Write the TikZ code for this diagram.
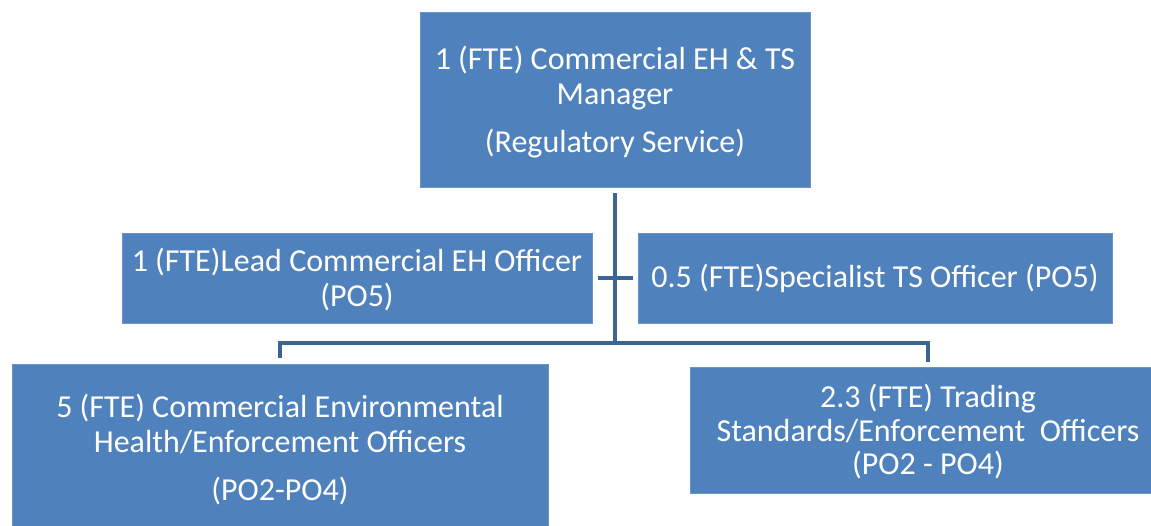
\documentclass[tikz,border=0pt]{standalone}
\usepackage{fontspec}
\setmainfont{Carlito}
\definecolor{boxblue}{HTML}{4F81BD}
\definecolor{boxedge}{HTML}{6C93C8}
\definecolor{linkblue}{HTML}{3D6497}
\tikzset{
  orgbox/.style={rectangle, fill=boxblue, draw=boxedge, line width=0.8pt, inner sep=0pt,
    text=white, align=center, font=\fontsize{32}{35}\selectfont},
  conn/.style={draw=linkblue, line width=4pt, line join=miter}
}
\begin{document}
\begin{tikzpicture}[x=1pt,y=-1pt]
\useasboundingbox (0,0) rectangle (1151,525);
\clip (0,0) rectangle (1151,525);
\node[orgbox, minimum width=390pt, minimum height=175pt] (top) at (615,99.5)
  {\rule{0pt}{28pt}1 (FTE) Commercial EH \& TS\\Manager\\[13pt](Regulatory Service)};
\node[orgbox, minimum width=470pt, minimum height=90pt] (lmid) at (357,278)
  {\rule{0pt}{27pt}1 (FTE)Lead Commercial EH Officer\\(PO5)};
\node[orgbox, minimum width=474pt, minimum height=90pt] (rmid) at (875,278)
  {0.5 (FTE)Specialist TS Officer (PO5)};
\node[orgbox, minimum width=536pt, minimum height=172pt] (bl) at (280,450)
  {5 (FTE) Commercial Environmental\\Health/Enforcement Officers\\[13pt](PO2-PO4)};
\node[orgbox, minimum width=476pt, minimum height=126pt, font=\fontsize{32}{33.5}\selectfont] (br) at (928,430)
  {\rule{0pt}{27pt}2.3 (FTE) Trading\\Standards/Enforcement\ \ Officers\\(PO2 - PO4)};
\coordinate (hub) at (615,343);
\draw[conn] ([yshift=-6pt]top.south) -- (hub);
\draw[conn] ([xshift=6pt]lmid.east) -- ([xshift=-5pt]rmid.west);
\draw[conn] ([yshift=6pt]bl.north) -- (bl.north |- hub) -- (hub);
\draw[conn] ([yshift=5pt]br.north) -- (br.north |- hub) -- (hub);
\end{tikzpicture}
\end{document}
